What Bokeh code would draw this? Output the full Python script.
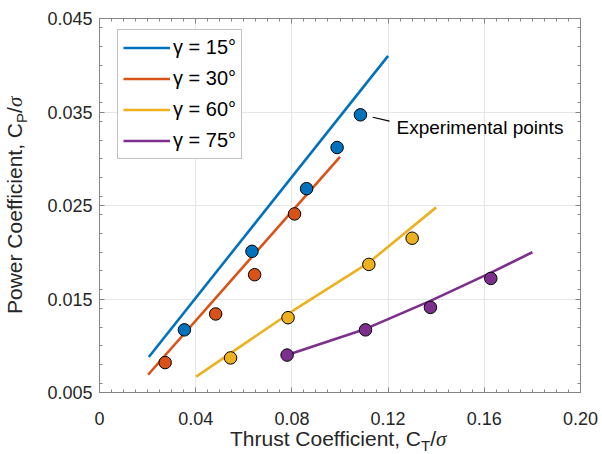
from bokeh.plotting import figure
from bokeh.layouts import column
from bokeh.models import (LinearAxis, FixedTicker, Range1d, Label, Legend,
                          LegendItem, CustomJSTickFormatter, Div)
from bokeh.embed import file_html
from bokeh.resources import INLINE

# ---------------- data ----------------
series_labels = ["γ = 15°", "γ = 30°", "γ = 60°", "γ = 75°"]
series_colors = ["#0072BD", "#D95319", "#EDB120", "#7E2F8E"]

# model curves (C_T/sigma, C_P/sigma)
model_ct_15 = [0.0205, 0.1200]
model_cp_15 = [0.0088, 0.0410]
model_ct_30 = [0.0202, 0.1000]
model_cp_30 = [0.0069, 0.0302]
model_ct_60 = [0.0402, 0.0808, 0.1120, 0.1400]
model_cp_60 = [0.0067, 0.0138, 0.0189, 0.0248]
model_ct_75 = [0.0780, 0.1106, 0.1376, 0.1626, 0.1800]
model_cp_75 = [0.0090, 0.0118, 0.0148, 0.0178, 0.0200]

# experimental points
exp_ct_15 = [0.0353, 0.0634, 0.0861, 0.0988, 0.1085]
exp_cp_15 = [0.0117, 0.0201, 0.0268, 0.0312, 0.0347]
exp_ct_30 = [0.0273, 0.0483, 0.0645, 0.0811]
exp_cp_30 = [0.0082, 0.0134, 0.0176, 0.0241]
exp_ct_60 = [0.0545, 0.0784, 0.1120, 0.1300]
exp_cp_60 = [0.0087, 0.0130, 0.0187, 0.0215]
exp_ct_75 = [0.0780, 0.1106, 0.1376, 0.1627]
exp_cp_75 = [0.0090, 0.0117, 0.0141, 0.0172]

x_major = [0.0, 0.04, 0.08, 0.12, 0.16, 0.20]
x_minor = [0.005, 0.01, 0.015, 0.02, 0.025, 0.03, 0.035, 0.045, 0.05, 0.055,
           0.06, 0.065, 0.07, 0.075, 0.085, 0.09, 0.095, 0.1, 0.105, 0.11,
           0.115, 0.125, 0.13, 0.135, 0.14, 0.145, 0.15, 0.155, 0.165, 0.17,
           0.175, 0.18, 0.185, 0.19, 0.195]
y_major = [0.005, 0.015, 0.025, 0.035, 0.045]
y_minor = [0.006, 0.008, 0.010, 0.012, 0.014, 0.016, 0.018, 0.020, 0.022,
           0.024, 0.026, 0.028, 0.030, 0.032, 0.034, 0.036, 0.038, 0.040,
           0.042, 0.044]

x_title_main, x_title_sub = "Thrust Coefficient, C", "T"
y_title_main, y_title_sub = "Power Coefficient, C", "P"
title_tail = "σ"

annot_text = "Experimental points"
annot_pos = (0.1235, 0.03337)
leader_start = (0.1136, 0.03444)
leader_end = (0.1206, 0.03402)

# ---------------- styling ----------------
FONT = "Liberation Sans"
AX = "#858585"
TXT = "#262626"

p = figure(width=602, height=454,
           x_range=Range1d(0.0, 0.20), y_range=Range1d(0.005, 0.045),
           output_backend="svg", toolbar_location=None,
           min_border_left=99, min_border_right=22,
           min_border_top=18, min_border_bottom=62,
           background_fill_color="white", border_fill_color="white")
p.outline_line_color = AX
p.outline_line_width = 1

xt = FixedTicker(ticks=x_major, minor_ticks=x_minor)
yt = FixedTicker(ticks=y_major, minor_ticks=y_minor)


def style_axis(ax, ticker):
    ax.ticker = ticker
    ax.axis_line_color = AX
    ax.major_tick_line_color = AX
    ax.minor_tick_line_color = AX
    ax.major_tick_in = 5
    ax.major_tick_out = 0
    ax.minor_tick_in = 3
    ax.minor_tick_out = 0
    ax.major_label_text_font = FONT
    ax.major_label_text_font_size = "18px"
    ax.major_label_text_color = TXT
    ax.axis_label = None


style_axis(p.xaxis[0], xt)
style_axis(p.yaxis[0], yt)
p.xaxis[0].formatter = CustomJSTickFormatter(code="return tick == 0 ? '0' : tick.toFixed(2);")
p.yaxis[0].formatter = CustomJSTickFormatter(code="return tick.toFixed(3);")
p.xaxis[0].major_label_standoff = 19
p.yaxis[0].major_label_standoff = 7

for loc, tk in (("above", xt), ("right", yt)):
    ax = LinearAxis()
    style_axis(ax, tk)
    ax.formatter = CustomJSTickFormatter(code="return '';")
    ax.major_label_text_font_size = "1px"
    ax.major_label_standoff = 0
    p.add_layout(ax, loc)

p.xgrid.ticker = xt
p.ygrid.ticker = yt
p.xgrid.grid_line_color = "#e6e6e6"
p.ygrid.grid_line_color = "#e6e6e6"

# ---------------- glyphs ----------------
model_x = [model_ct_15, model_ct_30, model_ct_60, model_ct_75]
model_y = [model_cp_15, model_cp_30, model_cp_60, model_cp_75]
exp_x = [exp_ct_15, exp_ct_30, exp_ct_60, exp_ct_75]
exp_y = [exp_cp_15, exp_cp_30, exp_cp_60, exp_cp_75]

line_renderers = []
for mx, my, c in zip(model_x, model_y, series_colors):
    r = p.line(mx, my, line_color=c, line_width=2.6)
    line_renderers.append(r)

for ex, ey, c in zip(exp_x, exp_y, series_colors):
    p.scatter(ex, ey, marker="circle", size=12.5, fill_color=c,
              line_color="black", line_width=1)

p.segment(x0=[leader_start[0]], y0=[leader_start[1]],
          x1=[leader_end[0]], y1=[leader_end[1]],
          line_color="black", line_width=1.2)
p.add_layout(Label(x=annot_pos[0], y=annot_pos[1], text=annot_text,
                   text_font=FONT, text_font_size="19px", text_color="black",
                   text_baseline="alphabetic", text_align="left"))

legend = Legend(items=[LegendItem(label=lab, renderers=[r])
                       for lab, r in zip(series_labels, line_renderers)],
                location=(18, 233), margin=0, padding=5, spacing=6,
                glyph_width=47, glyph_height=25, label_height=25,
                label_standoff=3, label_text_font=FONT,
                label_text_font_size="20px", label_text_color="black",
                border_line_color=AX, border_line_width=1,
                background_fill_color="white", background_fill_alpha=1.0)
p.add_layout(legend)

# ---------------- axis titles (HTML, with real subscripts) ----------------
SUB = "font-size:15px;position:relative;top:5px;"
SIG = "font-family:'Liberation Serif';font-style:italic;"


def title_html(main, sub):
    return (f"{main}<span style=\"{SUB}\">{sub}</span>/"
            f"<span style=\"{SIG}\">{title_tail}</span>")


common = {"position": "absolute", "font-family": FONT, "font-size": "21px",
          "line-height": "24px", "color": TXT, "white-space": "nowrap",
          "margin": "0", "padding": "0"}

xdiv = Div(text=title_html(x_title_main, x_title_sub), width=250, height=26,
           styles=dict(common, left="230px", top="427px", overflow="hidden"))
ydiv = Div(text=title_html(y_title_main, y_title_sub), width=250, height=26,
           styles=dict(common, left="3px", top="314px",
                       transform="rotate(-90deg)", **{"transform-origin": "0 0"}))

root = column(p, xdiv, ydiv)
open("out.html", "w").write(file_html(root, INLINE))
